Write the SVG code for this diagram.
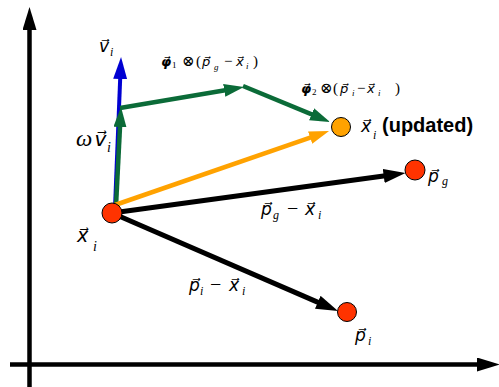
<svg xmlns="http://www.w3.org/2000/svg" width="499" height="387" viewBox="0 0 499 387">
<style>
.r{font-family:"Liberation Serif","DejaVu Serif",serif;fill:#000;font-style:normal}
.m{font-family:"Liberation Serif","DejaVu Serif",serif;font-style:italic}
.vc{font-family:"DejaVu Serif","DejaVu Sans",serif;font-style:italic}
.b{font-family:"Liberation Sans",Arial,sans-serif;font-weight:bold;fill:#000}
.pt{stroke:#000;stroke-width:1}
.ax{stroke:#000;stroke-width:4.5;fill:none}
.blk{stroke:#000;stroke-width:5;fill:none}
.grn{stroke:#0b6b38;stroke-width:4.5;fill:none}
.org{stroke:#ffa200;stroke-width:4.5;fill:none}
.blu{stroke:#0000d2;stroke-width:4;fill:none}
</style>
<defs>
<marker id="hax" markerUnits="userSpaceOnUse" markerWidth="26" markerHeight="16" refX="11" refY="7" orient="auto"><path d="M0,0L23,7L0,14z" fill="#000"/></marker>
<marker id="hk" markerUnits="userSpaceOnUse" markerWidth="26" markerHeight="16" refX="11" refY="7" orient="auto"><path d="M0,0L22,7L0,14z" fill="#000"/></marker>
<marker id="hb" markerUnits="userSpaceOnUse" markerWidth="26" markerHeight="16" refX="11" refY="7" orient="auto"><path d="M0,0L22,7L0,14z" fill="#0000d2"/></marker>
<marker id="hg" markerUnits="userSpaceOnUse" markerWidth="24" markerHeight="15" refX="10" refY="6.5" orient="auto"><path d="M0,0L20,6.5L0,13z" fill="#0b6b38"/></marker>
<marker id="ho" markerUnits="userSpaceOnUse" markerWidth="24" markerHeight="15" refX="10" refY="6.5" orient="auto"><path d="M0,0L20,6.5L0,13z" fill="#ffa200"/></marker>
</defs>
<g id="axes">
<line class="ax" x1="29.5" y1="387" x2="29.5" y2="19" marker-end="url(#hax)"/>
<line class="ax" x1="10" y1="364.5" x2="488" y2="364.5" marker-end="url(#hax)"/>
</g>
<g id="connectors">
<line class="blk" x1="112" y1="213" x2="394.6" y2="174.5" marker-end="url(#hk)"/>
<line class="blk" x1="112" y1="213" x2="327.9" y2="306.6" marker-end="url(#hk)"/>
<line class="blu" x1="115" y1="208" x2="120.6" y2="68" marker-end="url(#hb)"/>
<line class="grn" x1="116" y1="206" x2="120.5" y2="117" marker-end="url(#hg)"/>
<line class="grn" x1="120" y1="108" x2="234.1" y2="88.7" marker-end="url(#hg)"/>
<line class="grn" x1="243" y1="86" x2="320.8" y2="118.1" marker-end="url(#hg)"/>
<line class="org" x1="115" y1="205" x2="319.6" y2="134.3" marker-end="url(#ho)"/>
</g>
<g id="node-xi">
<circle class="pt" cx="112" cy="213" r="10" fill="#ff3300"/>
<text class="r"><tspan class="vc" x="77" y="242" font-size="19">x&#x20D7;</tspan><tspan class="m" x="93" y="251" font-size="14">i</tspan></text>
</g>
<g id="node-updated">
<circle class="pt" cx="341" cy="127" r="9.5" fill="#ffa200"/>
<text class="r"><tspan class="vc" x="361" y="132" font-size="17">x&#x20D7;</tspan><tspan class="m" x="373" y="139" font-size="12">i</tspan></text>
<text class="b" x="382" y="131.5" font-size="20">(updated)</text>
</g>
<g id="node-pg">
<circle class="pt" cx="415" cy="170" r="10" fill="#ff3300"/>
<text class="r"><tspan class="vc" x="428" y="182" font-size="17">p&#x20D7;</tspan><tspan class="m" x="442" y="185" font-size="12">g</tspan></text>
</g>
<g id="node-pi">
<circle class="pt" cx="347" cy="312" r="9.5" fill="#ff3300"/>
<text class="r"><tspan class="vc" x="355" y="341" font-size="17">p&#x20D7;</tspan><tspan class="m" x="368" y="345" font-size="12">i</tspan></text>
</g>
<g id="label-vi">
<text class="r"><tspan class="vc" x="99" y="52" font-size="17">v&#x20D7;</tspan><tspan class="m" x="110" y="56" font-size="12">i</tspan></text>
</g>
<g id="label-wvi">
<text class="r"><tspan class="m" x="76" y="146" font-size="23">ω</tspan><tspan class="vc" x="94.5" y="146" font-size="20">v&#x20D7;</tspan><tspan class="m" x="107" y="152" font-size="14">i</tspan></text>
</g>
<g id="label-phi1">
<text class="r" font-size="15"><tspan class="vc" x="161" y="66" font-size="13" font-weight="bold">φ&#x20D7;</tspan><tspan x="172" y="68" font-size="9">1</tspan><tspan x="182" y="66">⊗</tspan><tspan x="196" y="66">(</tspan><tspan class="vc" x="202" y="66" font-size="13">p&#x20D7;</tspan><tspan class="m" x="214" y="70" font-size="9">g</tspan><tspan x="224" y="66">−</tspan><tspan class="vc" x="236" y="66" font-size="13">x&#x20D7;</tspan><tspan class="m" x="246" y="69" font-size="9">i</tspan><tspan x="253" y="66">)</tspan></text>
</g>
<g id="label-phi2">
<text class="r" font-size="15"><tspan class="vc" x="301" y="93" font-size="13" font-weight="bold">φ&#x20D7;</tspan><tspan x="312" y="95" font-size="9">2</tspan><tspan x="320" y="93">⊗</tspan><tspan x="333" y="93">(</tspan><tspan class="vc" x="340" y="93" font-size="13">p&#x20D7;</tspan><tspan class="m" x="352" y="96" font-size="9">i</tspan><tspan x="357" y="93">−</tspan><tspan class="vc" x="367" y="93" font-size="13">x&#x20D7;</tspan><tspan class="m" x="378" y="96" font-size="9">i</tspan><tspan x="395" y="93">)</tspan></text>
</g>
<g id="label-pg-xi">
<text class="r" font-size="20"><tspan class="vc" x="261" y="215" font-size="17">p&#x20D7;</tspan><tspan class="m" x="273" y="219" font-size="12">g</tspan><tspan x="287" y="215">−</tspan><tspan class="vc" x="305" y="215" font-size="17">x&#x20D7;</tspan><tspan class="m" x="318" y="219" font-size="12">i</tspan></text>
</g>
<g id="label-pi-xi">
<text class="r" font-size="20"><tspan class="vc" x="189" y="291" font-size="17">p&#x20D7;</tspan><tspan class="m" x="200" y="295" font-size="12">i</tspan><tspan x="210" y="291">−</tspan><tspan class="vc" x="229" y="291" font-size="17">x&#x20D7;</tspan><tspan class="m" x="242" y="295" font-size="12">i</tspan></text>
</g>
</svg>
